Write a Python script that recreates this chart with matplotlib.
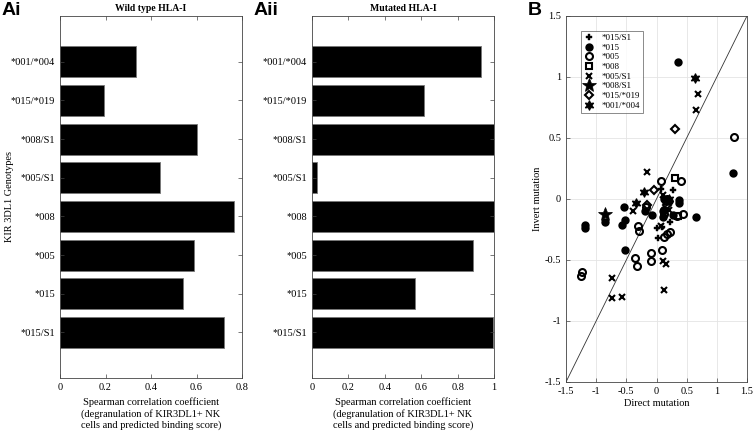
import numpy as np
import matplotlib
matplotlib.use("Agg")
import matplotlib.pyplot as plt
from matplotlib.ticker import FuncFormatter

plt.rcParams['font.family'] = ['Liberation Serif', 'DejaVu Serif']
plt.rcParams['axes.unicode_minus'] = False

genotypes = ['*001/*004', '*015/*019', '*008/S1', '*005/S1', '*008', '*005', '*015', '*015/S1']
wild_type = [0.334, 0.193, 0.602, 0.440, 0.765, 0.589, 0.541, 0.721]
mutated = [0.927, 0.614, 1.0, 0.027, 1.0, 0.883, 0.568, 0.993]

# scatter groups: (direct, invert)
s015_S1_x = [0.27, 0.07, 0.00, 0.09, 0.03, 0.22]
s015_S1_y = [0.07, 0.08, -0.24, -0.23, -0.32, -0.19]
s015_x = [0.35, 1.26, -0.54, -0.85, -1.18, -1.19, -0.52, -0.57, -0.53, -0.19, -0.08, 0.11,
          0.28, 0.38, 0.65, 0.11, 0.12, 0.20, 0.37]
s015_y = [1.12, 0.21, -0.07, -0.19, -0.21, -0.24, -0.17, -0.21, -0.42, -0.10, -0.13, -0.10,
          -0.13, -0.01, -0.15, -0.15, 0.00, -0.02, -0.03]
s005_x = [1.29, 0.08, 0.40, -0.17, 0.15, 0.12, 0.13, 0.44, 0.34, -0.30, -0.29, 0.12, 0.18,
          0.23, -0.35, -0.32, -0.09, -0.09, 0.09, -1.23, -1.25, 0.18]
s005_y = [0.51, 0.15, 0.15, -0.07, -0.02, -0.12, -0.09, -0.12, -0.14, -0.22, -0.26, -0.31,
          -0.29, -0.27, -0.48, -0.55, -0.44, -0.51, -0.42, -0.60, -0.63, 0.00]
s008_x = [0.30, 0.35]
s008_y = [0.17, -0.14]
s005_S1_x = [0.68, 0.65, -0.16, 0.11, -0.39, 0.20, 0.11, 0.15, 0.12, -0.73, -0.74, -0.57, 0.07]
s005_S1_y = [0.86, 0.73, 0.22, 0.03, -0.10, -0.09, -0.51, -0.53, -0.75, -0.65, -0.81, -0.80, -0.22]
s008_S1_x = [-0.85]
s008_S1_y = [-0.12]
s015_019_x = [0.30, -0.04, -0.16, 0.18]
s015_019_y = [0.57, 0.07, -0.05, -0.05]
s001_004_x = [0.64, -0.21, -0.34, 0.20]
s001_004_y = [0.99, 0.06, -0.03, 0.00]

fig = plt.figure(figsize=(7.54, 4.36), dpi=100)

def bar_panel(rect, values, xmax, title, label):
    ax = fig.add_axes(rect)
    pos = np.arange(len(genotypes))
    ax.barh(pos, values, height=0.8, color='black', edgecolor='#777777', linewidth=0.6)
    ax.set_ylim(len(genotypes) - 1 + 1.18, -1.18)
    ax.set_xlim(0, xmax)
    ax.set_xticks(np.arange(0, xmax + 0.01, 0.2))
    ax.xaxis.set_major_formatter(FuncFormatter(lambda v, p: '%g' % v))
    ax.set_yticks(pos)
    ax.set_yticklabels(genotypes)
    ax.tick_params(direction='in', length=3, width=0.5, labelsize=7.5, color='#444444',
                   top=True, right=True)
    for s in ax.spines.values():
        s.set_color('#444444')
        s.set_linewidth(0.6)
    ax.set_title(title, fontsize=7, fontweight='bold', pad=4)
    ax.set_xlabel('Spearman correlation coefficient\n(degranulation of KIR3DL1+ NK\ncells and predicted binding score)',
                  fontsize=7.5, labelpad=4)
    fig.text(rect[0] - 0.077, 0.995, label, fontsize=14, fontweight='bold',
             family='Liberation Sans', va='top')
    return ax

bar_panel([0.0796, 0.133, 0.2414, 0.830], wild_type, 0.8, 'Wild type HLA-I', 'Ai')
bar_panel([0.4138, 0.133, 0.2414, 0.830], mutated, 1.0, 'Mutated HLA-I', 'Aii')
fig.text(0.013, 0.55, 'KIR 3DL1 Genotypes', rotation=90, fontsize=7.5, ha='center', va='center')

ax = fig.add_axes([0.7507, 0.124, 0.240, 0.8394])
ax.plot([-1.5, 1.5], [-1.5, 1.5], color='#333333', linewidth=0.6, zorder=1)
kw = dict(color='black', linestyle='none', mew=1.5, zorder=3)
ax.plot(s015_S1_x, s015_S1_y, marker='P', ms=5, label='*015/S1', mew=0.3, color='black', linestyle='none')
ax.plot(s015_x, s015_y, marker='o', ms=4.5, label='*015', **kw)
ax.plot(s005_x, s005_y, marker='o', ms=5, mfc='none', label='*005', **kw)
ax.plot(s008_x, s008_y, marker='s', ms=4.2, mfc='none', label='*008', **kw)
ax.plot(s005_S1_x, s005_S1_y, marker='x', ms=3.8, label='*005/S1', **kw)
ax.plot(s008_S1_x, s008_S1_y, marker='*', ms=10, label='*008/S1', color='black', linestyle='none', mew=0.5)
ax.plot(s015_019_x, s015_019_y, marker='D', ms=4.2, mfc='none', label='*015/*019', **kw)
ax.plot(s001_004_x, s001_004_y, marker=(6, 1, 0), ms=7, label='*001/*004', color='black',
        linestyle='none', mew=0.8)
ax.set_xlim(-1.5, 1.5)
ax.set_ylim(-1.5, 1.5)
ticks = np.arange(-1.5, 1.51, 0.5)
ax.set_xticks(ticks)
ax.set_yticks(ticks)
fmt = FuncFormatter(lambda v, p: '%g' % round(v, 2))
ax.xaxis.set_major_formatter(fmt)
ax.yaxis.set_major_formatter(fmt)
ax.grid(True, color='#e4e4e4', linewidth=0.6)
ax.set_axisbelow(True)
ax.tick_params(direction='in', length=3, width=0.5, labelsize=7.5, color='#444444')
for s in ax.spines.values():
    s.set_color('#444444')
    s.set_linewidth(0.6)
ax.set_xlabel('Direct mutation', fontsize=7.5, labelpad=2)
ax.set_ylabel('Invert mutation', fontsize=7.5, labelpad=2)
leg = ax.legend(loc='upper left', bbox_to_anchor=(0.08, 0.96), fontsize=6.5, frameon=True,
                fancybox=False, handlelength=1.2, handletextpad=0.8, borderpad=0.35,
                labelspacing=0.15, borderaxespad=0)
leg.get_frame().set_edgecolor('#555555')
leg.get_frame().set_linewidth(0.6)
fig.text(0.700, 0.995, 'B', fontsize=14, fontweight='bold', family='Liberation Sans', va='top')

fig.savefig('out.png', dpi=100)
